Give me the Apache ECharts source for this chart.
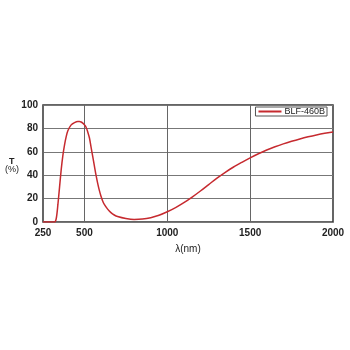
<!DOCTYPE html>
<html>
<head>
<meta charset="utf-8">
<script src="https://cdn.jsdelivr.net/npm/echarts@6/dist/echarts.min.js"></script>
<style>html,body{margin:0;padding:0;background:#fff}#c{width:350px;height:350px}</style>
</head>
<body>
<div id="c"></div>
<script>
var wavelengths = [250,320,330,340,350,360,370,380,390,400,420,440,460,470,480,490,500,510,520,530,540,550,560,570,580,590,600,610,620,640,660,680,700,750,800,850,900,950,1000,1050,1100,1150,1200,1250,1300,1350,1400,1450,1500,1550,1600,1650,1700,1750,1800,1850,1900,1950,2000];
var transmission = [0,0,3,15,30,45,57,66,73,78,83,85,86,86,85.5,84.5,83,81,77,72,64,56,48,40,33,27,22,18,15,11,8,6,4.7,3,2.2,2.5,3.7,5.8,8.8,12.3,16.5,21.3,26.5,32,37.5,42.5,47,51,54.8,58.3,61.5,64.3,66.8,69,71,72.8,74.4,75.8,77];
var xTickLabels = [250,500,1000,1500,2000];
var yTickLabels = [0,20,40,60,80,100];
var seriesName = 'BLF-460B';

var chart = echarts.init(document.getElementById('c'));
var pts = wavelengths.map(function(w,i){return [w, transmission[i]];});
var font = '"Liberation Sans", Arial, sans-serif';
chart.setOption({
  animation: false,
  grid: {left: 43, right: 17, top: 105, bottom: 128, show: true, borderColor: '#333', borderWidth: 1.5, outerBoundsMode: 'none', containLabel: false},
  legend: {
    right: 23, top: 107, data: [seriesName], icon: 'rect', itemWidth: 23, itemHeight: 2,
    borderColor: '#555', borderWidth: 1, padding: [0, 2, 0, 3], borderRadius: 0,
    textStyle: {fontSize: 9, color: '#222', fontFamily: font, padding: [0,0,0,-2]}
  },
  graphic: [
    {type: 'text', left: 9, top: 157, style: {text: 'T', fontSize: 9, fill: '#222', fontFamily: font, fontWeight: 'bold'}},
    {type: 'text', left: 5, top: 165, style: {text: '(%)', fontSize: 9, fill: '#222', fontFamily: font}}
  ],
  xAxis: {
    type: 'value', min: 250, max: 2000, interval: 250,
    name: 'λ(nm)', nameLocation: 'middle', nameGap: 22,
    nameTextStyle: {fontSize: 10, color: '#222', fontFamily: font},
    axisLine: {show: false}, axisTick: {show: false, customValues: xTickLabels},
    axisLabel: {customValues: xTickLabels, fontSize: 10, color: '#222', fontWeight: 'bold', fontFamily: font, margin: 6,
      formatter: function(v){return String(v);}},
    splitLine: {show: true, lineStyle: {color: '#666', width: 1}}
  },
  yAxis: {
    type: 'value', min: 0, max: 100, interval: 20,
    axisLine: {show: false}, axisTick: {show: false},
    axisLabel: {fontSize: 10, color: '#222', fontWeight: 'bold', fontFamily: font, margin: 5,
      formatter: function(v){return yTickLabels.indexOf(v) >= 0 ? String(v) : '';}},
    splitLine: {show: true, lineStyle: {color: '#777', width: 1}}
  },
  series: [{
    name: seriesName, type: 'line', data: pts, showSymbol: false, smooth: 0.3,
    lineStyle: {color: '#c62a2f', width: 1.5}, itemStyle: {color: '#c62a2f'}
  }]
});
</script>
</body>
</html>
